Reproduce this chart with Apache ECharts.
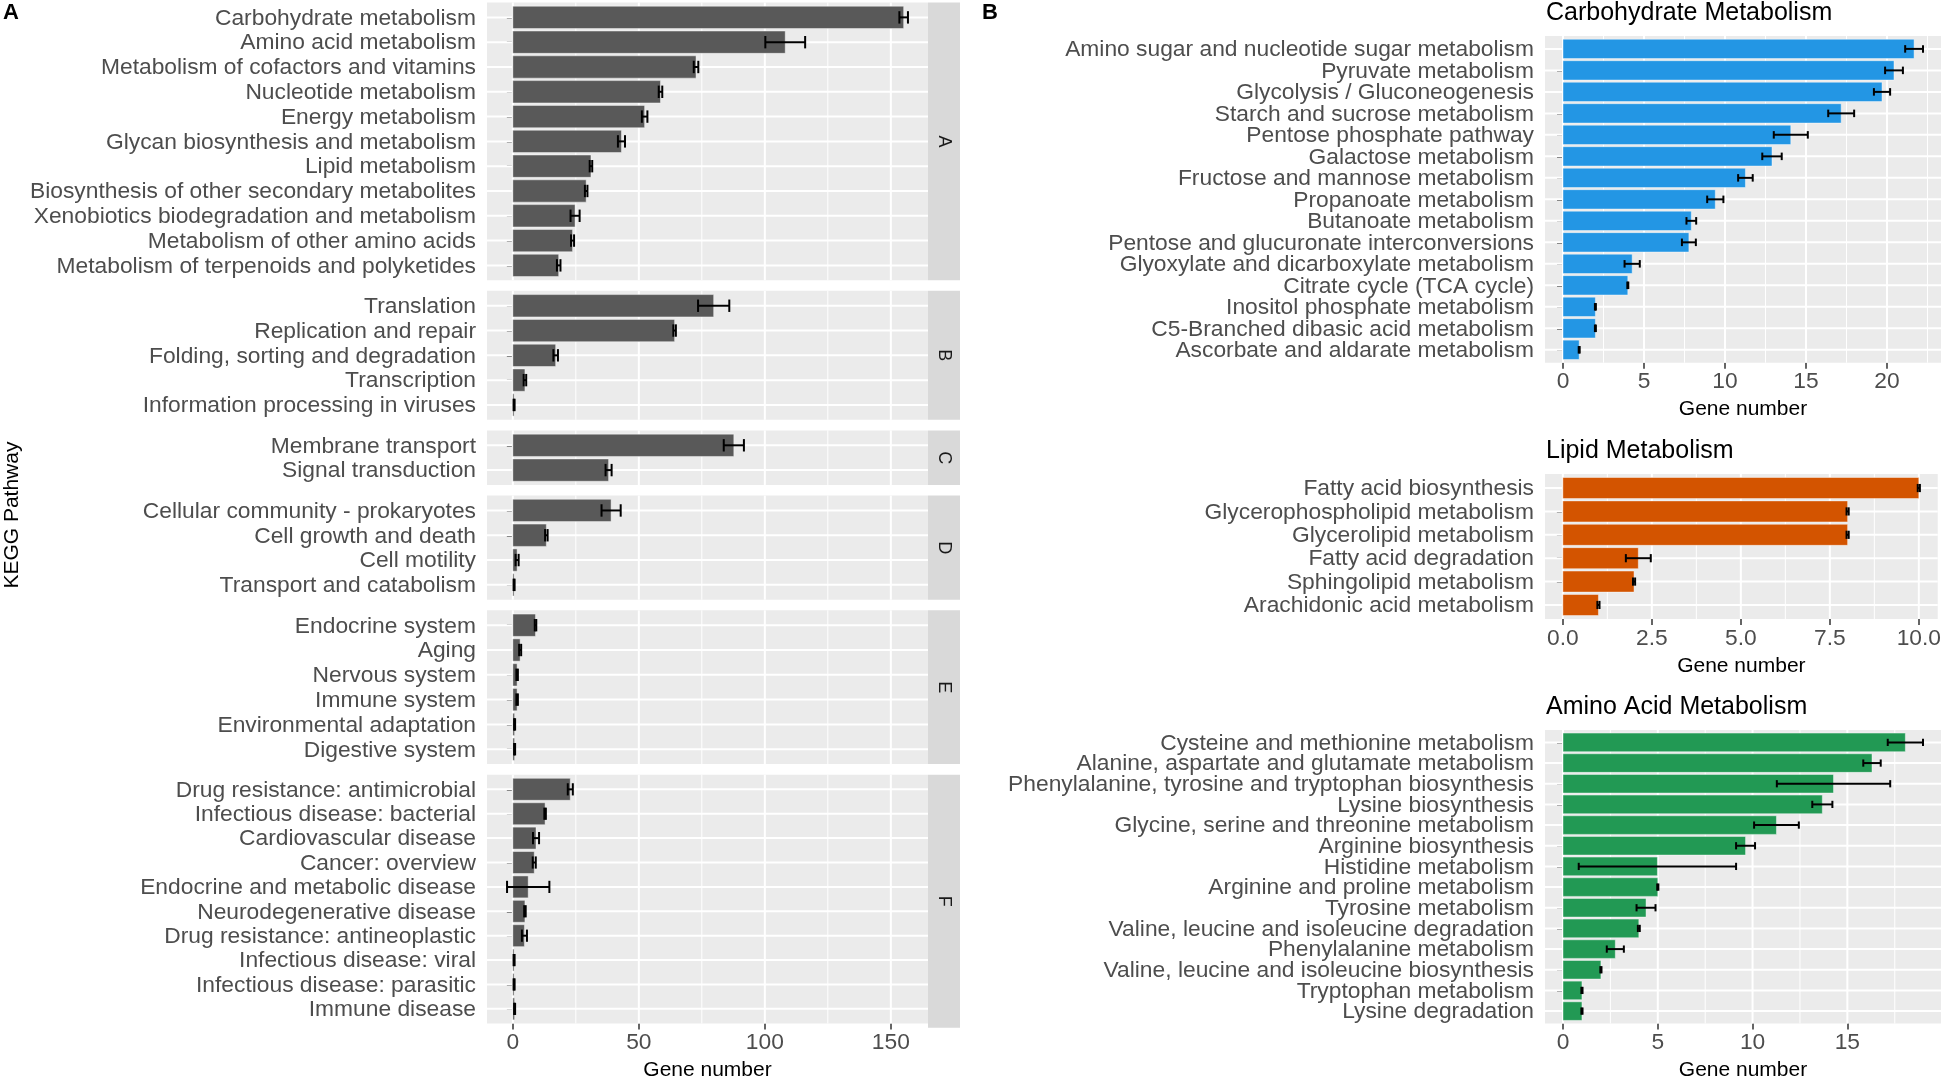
<!DOCTYPE html>
<html><head><meta charset="utf-8">
<script src="https://cdn.jsdelivr.net/npm/echarts@6/dist/echarts.min.js"></script>
<style>html,body{margin:0;padding:0;background:#fff}#c{width:1944px;height:1082px}</style>
</head><body><div id="c"></div>
<script>
// ---------- Panel A data (KEGG level-1 facets) ----------
const facetLetters = ['A','B','C','D','E','F'];
const facetA_cats = ['Carbohydrate metabolism','Amino acid metabolism','Metabolism of cofactors and vitamins','Nucleotide metabolism','Energy metabolism','Glycan biosynthesis and metabolism','Lipid metabolism','Biosynthesis of other secondary metabolites','Xenobiotics biodegradation and metabolism','Metabolism of other amino acids','Metabolism of terpenoids and polyketides'];
const facetA_vals = [155.1,108.1,72.7,58.6,52.3,43.1,31.0,29.1,24.7,23.7,18.2];
const facetA_err  = [1.7,7.9,0.9,0.7,1.1,1.4,0.5,0.5,1.8,0.6,0.7];
const facetB_cats = ['Translation','Replication and repair','Folding, sorting and degradation','Transcription','Information processing in viruses'];
const facetB_vals = [79.7,64.2,17.0,4.8,0.5];
const facetB_err  = [6.2,0.5,0.9,0.5,0.2];
const facetC_cats = ['Membrane transport','Signal transduction'];
const facetC_vals = [87.7,38.0];
const facetC_err  = [4.0,1.2];
const facetD_cats = ['Cellular community - prokaryotes','Cell growth and death','Cell motility','Transport and catabolism'];
const facetD_vals = [39.0,13.3,1.7,0.5];
const facetD_err  = [3.8,0.5,0.6,0.2];
const facetE_cats = ['Endocrine system','Aging','Nervous system','Immune system','Environmental adaptation','Digestive system'];
const facetE_vals = [9.0,2.9,1.7,1.7,0.7,0.7];
const facetE_err  = [0.3,0.4,0.3,0.3,0.2,0.2];
const facetF_cats = ['Drug resistance: antimicrobial','Infectious disease: bacterial','Cardiovascular disease','Cancer: overview','Endocrine and metabolic disease','Neurodegenerative disease','Drug resistance: antineoplastic','Infectious disease: viral','Infectious disease: parasitic','Immune disease'];
const facetF_vals = [22.8,12.8,9.2,8.5,6.1,4.8,4.6,0.5,0.5,0.7];
const facetF_err  = [1.0,0.3,1.2,0.6,8.4,0.3,1.0,0.2,0.2,0.2];
const ticksA = [0,50,100,150];
const minorA = [25,75,125];

// ---------- Panel B data ----------
const carbCats = ['Amino sugar and nucleotide sugar metabolism','Pyruvate metabolism','Glycolysis / Gluconeogenesis','Starch and sucrose metabolism','Pentose phosphate pathway','Galactose metabolism','Fructose and mannose metabolism','Propanoate metabolism','Butanoate metabolism','Pentose and glucuronate interconversions','Glyoxylate and dicarboxylate metabolism','Citrate cycle (TCA cycle)','Inositol phosphate metabolism','C5-Branched dibasic acid metabolism','Ascorbate and aldarate metabolism'];
const carbVals = [21.67,20.43,19.69,17.17,14.06,12.9,11.26,9.4,7.92,7.77,4.27,4.0,2.0,2.0,1.0];
const carbErr  = [0.55,0.55,0.5,0.8,1.05,0.6,0.45,0.5,0.3,0.43,0.47,0.03,0.03,0.03,0.03];
const carbTicks = [0,5,10,15,20];
const carbMinor = [2.5,7.5,12.5,17.5,22.5];

const lipidCats = ['Fatty acid biosynthesis','Glycerophospholipid metabolism','Glycerolipid metabolism','Fatty acid degradation','Sphingolipid metabolism','Arachidonic acid metabolism'];
const lipidVals = [10.0,8.0,8.0,2.12,2.0,1.0];
const lipidErr  = [0.03,0.03,0.03,0.35,0.03,0.03];
const lipidTicks = [0,2.5,5,7.5,10];
const lipidMinor = [1.25,3.75,6.25,8.75];

const aminoCats = ['Cysteine and methionine metabolism','Alanine, aspartate and glutamate metabolism','Phenylalanine, tyrosine and tryptophan biosynthesis','Lysine biosynthesis','Glycine, serine and threonine metabolism','Arginine biosynthesis','Histidine metabolism','Arginine and proline metabolism','Tyrosine metabolism','Valine, leucine and isoleucine degradation','Phenylalanine metabolism','Valine, leucine and isoleucine biosynthesis','Tryptophan metabolism','Lysine degradation'];
const aminoVals = [18.06,16.3,14.27,13.68,11.26,9.63,4.98,5.0,4.38,4.0,2.76,2.0,1.0,1.0];
const aminoErr  = [0.93,0.46,2.99,0.53,1.18,0.5,4.15,0.03,0.5,0.05,0.45,0.03,0.03,0.03];
const aminoTicks = [0,5,10,15];
const aminoMinor = [2.5,7.5,12.5,17.5];

// ---------- styling / layout ----------
const FONT = 'Liberation Sans';
const LABEL_SIZE = 22.8, TITLE_SIZE = 21;
const grids = [], xAxes = [], yAxes = [], series = [], graphics = [];

function range(valsList, errList) {
  let lo = 0, hi = -Infinity;
  valsList.forEach((vals, k) => vals.forEach((v, i) => {
    lo = Math.min(lo, v - errList[k][i]); hi = Math.max(hi, v + errList[k][i]);
  }));
  const span = hi - lo;
  return [lo - 0.05 * span, hi + 0.05 * span];
}

function addPanel(o) {
  const gi = grids.length;
  const n = o.cats.length;
  const idx = o.cats.map((_, i) => i + 1);
  grids.push({left: o.left, top: o.top, width: o.width, height: o.height, show: true,
    backgroundColor: '#EBEBEB', borderWidth: 0, containLabel: false});
  xAxes.push({type: 'value', gridIndex: gi, min: o.xMin, max: o.xMax,
    axisLine: {show: false}, splitLine: {show: false},
    axisTick: {show: o.showX, customValues: o.majors, length: 6, lineStyle: {color: '#333', width: 1.5}},
    axisLabel: {show: o.showX, customValues: o.majors, formatter: o.fmt, margin: 8, showMinLabel: true, showMaxLabel: true,
      hideOverlap: false, fontSize: LABEL_SIZE, color: '#4D4D4D', fontFamily: FONT},
    name: o.showX ? 'Gene number' : '', nameLocation: 'middle', nameGap: 36.5,
    nameTextStyle: {fontSize: TITLE_SIZE, color: '#000', fontFamily: FONT}});
  yAxes.push({type: 'value', gridIndex: gi, inverse: true, min: 0.4, max: n + 0.6,
    axisLine: {show: false}, splitLine: {show: false},
    axisTick: {show: true, customValues: idx, length: 6, lineStyle: {color: '#333', width: 1.5}},
    axisLabel: {show: false}});
  // background grid lines (ggplot style)
  const gdata = o.majors.map(v => [v, 0]).concat(o.minors.map(v => [v, 1])).concat(idx.map(v => [v, 2]));
  series.push({type: 'custom', xAxisIndex: gi, yAxisIndex: gi, z: 1, silent: true, data: gdata,
    renderItem: (p, api) => {
      const cs = p.coordSys, v = api.value(0), k = api.value(1);
      if (k === 2) {
        const y = api.coord([o.xMin, v])[1];
        return {type: 'line', shape: {x1: cs.x, y1: y, x2: cs.x + cs.width, y2: y}, style: {stroke: '#fff', lineWidth: 2}};
      }
      const x = api.coord([v, 1])[0];
      return {type: 'line', shape: {x1: x, y1: cs.y, x2: x, y2: cs.y + cs.height},
        style: {stroke: '#fff', lineWidth: k === 0 ? 2 : 1}};
    }});
  // category labels (placed with the y scale)
  series.push({type: 'custom', xAxisIndex: gi, yAxisIndex: gi, z: 3, silent: true, clip: false,
    data: idx.map(v => [o.xMin, v]), encode: {x: 0, y: 1},
    renderItem: (p, api) => {
      const cs = p.coordSys, i = api.value(1);
      const y = api.coord([o.xMin, i])[1];
      return {type: 'text', x: cs.x - 11, y: y + 1,
        style: {text: o.cats[i - 1], fontSize: LABEL_SIZE, fontFamily: FONT, fill: '#4D4D4D',
          align: 'right', verticalAlign: 'middle'}};
    }});
  // bars
  series.push({type: 'custom', xAxisIndex: gi, yAxisIndex: gi, z: 2, silent: true,
    data: o.vals.map((v, i) => [v, i + 1]), encode: {x: 0, y: 1},
    renderItem: (p, api) => {
      const v = api.value(0), y = api.value(1);
      const a = api.coord([0, y]), b = api.coord([v, y]);
      const h = api.size([0, 0.9])[1];
      return {type: 'rect', shape: {x: a[0], y: a[1] - h / 2, width: b[0] - a[0], height: h},
        style: {fill: o.color, stroke: 'rgba(255,255,255,0.55)', lineWidth: 0.8}};
    }});
  // error bars
  series.push({type: 'custom', xAxisIndex: gi, yAxisIndex: gi, z: 3, silent: true,
    data: o.vals.map((v, i) => [v - o.err[i], v + o.err[i], i + 1]), encode: {x: [0, 1], y: 2},
    renderItem: (p, api) => {
      const y = api.value(2);
      const a = api.coord([api.value(0), y]), b = api.coord([api.value(1), y]);
      const c = api.size([0, o.cap])[1] / 2;
      const st = {stroke: '#000', lineWidth: 2};
      return {type: 'group', children: [
        {type: 'line', shape: {x1: a[0], y1: a[1], x2: b[0], y2: b[1]}, style: st},
        {type: 'line', shape: {x1: a[0], y1: a[1] - c, x2: a[0], y2: a[1] + c}, style: st},
        {type: 'line', shape: {x1: b[0], y1: b[1] - c, x2: b[0], y2: b[1] + c}, style: st}
      ]};
    }});
}

// ---------- Panel A ----------
const facets = [
  [facetA_cats, facetA_vals, facetA_err], [facetB_cats, facetB_vals, facetB_err],
  [facetC_cats, facetC_vals, facetC_err], [facetD_cats, facetD_vals, facetD_err],
  [facetE_cats, facetE_vals, facetE_err], [facetF_cats, facetF_vals, facetF_err]];
const rA = range(facets.map(f => f[1]), facets.map(f => f[2]));
const A_LEFT = 487, A_WIDTH = 441, A_TOP = 2.5, A_UNIT = 24.8, A_GAP = 10.6, STRIP_W = 32;
let yTop = A_TOP;
facets.forEach((f, k) => {
  const h = (f[0].length + 0.2) * A_UNIT;
  addPanel({cats: f[0], vals: f[1], err: f[2], color: '#595959', left: A_LEFT, top: yTop, width: A_WIDTH, height: h,
    xMin: rA[0], xMax: rA[1], majors: ticksA, minors: minorA, showX: k === facets.length - 1,
    fmt: v => String(v), cap: 0.5});
  graphics.push({type: 'rect', shape: {x: A_LEFT + A_WIDTH, y: yTop, width: STRIP_W, height: h}, style: {fill: '#D9D9D9'}});
  graphics.push({type: 'text', x: A_LEFT + A_WIDTH + STRIP_W / 2, y: yTop + h / 2, rotation: -Math.PI / 2,
    style: {text: facetLetters[k], fontSize: 18, fontFamily: FONT, fill: '#1A1A1A', align: 'center', verticalAlign: 'middle',
      textAlign: 'center', textVerticalAlign: 'middle'}});
  yTop += h + A_GAP;
});
graphics.push({type: 'text', x: 12, y: A_TOP + (yTop - A_GAP - A_TOP) / 2, rotation: Math.PI / 2,
  style: {text: 'KEGG Pathway', fontSize: TITLE_SIZE, fontFamily: FONT, fill: '#000', align: 'center', verticalAlign: 'middle',
    textAlign: 'center', textVerticalAlign: 'middle'}});

// ---------- Panel B ----------
const B_LEFT = 1545, B_WIDTH = 396;
const bPanels = [
  {title: 'Carbohydrate Metabolism', cats: carbCats, vals: carbVals, err: carbErr, color: '#2396E4', top: 36, height: 326.7,
   majors: carbTicks, minors: carbMinor, fmt: v => String(v)},
  {title: 'Lipid Metabolism', cats: lipidCats, vals: lipidVals, err: lipidErr, color: '#D35400', top: 474, height: 145,
   majors: lipidTicks, minors: lipidMinor, fmt: v => v.toFixed(1)},
  {title: 'Amino Acid Metabolism', cats: aminoCats, vals: aminoVals, err: aminoErr, color: '#229954', top: 730, height: 297.3,
   majors: aminoTicks, minors: aminoMinor, fmt: v => String(v)}];
bPanels.forEach(b => {
  const r = range([b.vals], [b.err]);
  addPanel({cats: b.cats, vals: b.vals, err: b.err, color: b.color, left: B_LEFT, top: b.top, width: B_WIDTH, height: b.height,
    xMin: r[0], xMax: r[1], majors: b.majors, minors: b.minors, showX: true, fmt: b.fmt, cap: 0.35});
  graphics.push({type: 'text', x: B_LEFT + 1, y: b.top - 23,
    style: {text: b.title, fontSize: 25, fontFamily: FONT, fill: '#000', align: 'left', verticalAlign: 'middle',
      textAlign: 'left', textVerticalAlign: 'middle'}});
});

// panel letters
graphics.push({type: 'text', x: 3, y: 13, style: {text: 'A', fontSize: 22, fontWeight: 'bold', fontFamily: FONT, fill: '#000',
  align: 'left', verticalAlign: 'middle', textAlign: 'left', textVerticalAlign: 'middle'}});
graphics.push({type: 'text', x: 982, y: 13, style: {text: 'B', fontSize: 22, fontWeight: 'bold', fontFamily: FONT, fill: '#000',
  align: 'left', verticalAlign: 'middle', textAlign: 'left', textVerticalAlign: 'middle'}});

const chart = echarts.init(document.getElementById('c'), null, {renderer: 'canvas', width: 1944, height: 1082});
chart.setOption({
  animation: false,
  backgroundColor: '#fff',
  grid: grids, xAxis: xAxes, yAxis: yAxes, series: series,
  graphic: {elements: graphics}
});
</script></body></html>
